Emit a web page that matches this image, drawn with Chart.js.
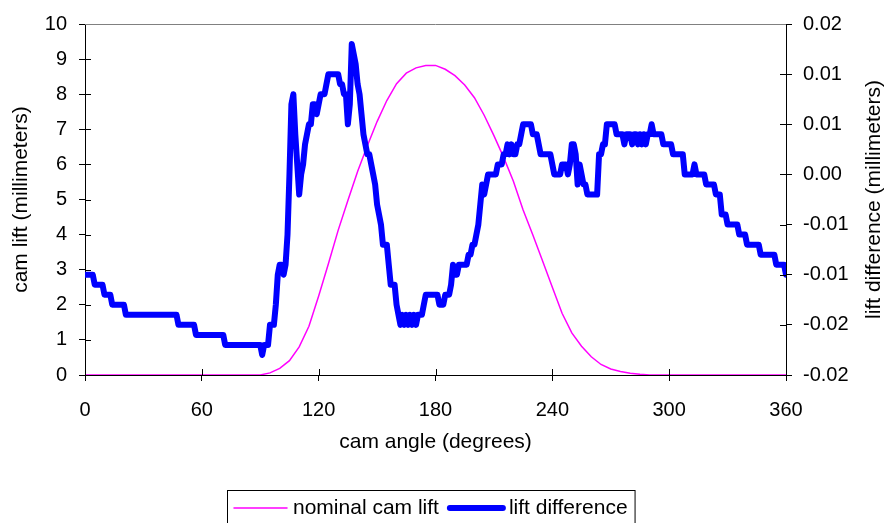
<!DOCTYPE html>
<html>
<head>
<meta charset="utf-8">
<script src="https://cdn.jsdelivr.net/npm/chart.js@4.4.1/dist/chart.umd.min.js"></script>
<style>
  html, body { margin: 0; padding: 0; background: #fff; }
  #wrap { width: 887px; height: 523px; position: relative; }
</style>
</head>
<body>
<div id="wrap"><canvas id="camChart"></canvas></div>
<script>
// nominal cam lift (mm) against cam angle (deg)
const liftAngles = [0, 90, 95, 100, 105, 110, 115, 120, 125, 130, 135, 140, 145, 150, 155, 160, 165, 170, 175, 180,
    185, 190, 195, 200, 205, 210, 215, 220, 225, 230, 235, 240, 245, 250, 255, 260, 265, 270, 275, 280, 285, 290, 360];
const liftValues = [0, 0, 0.06, 0.19, 0.41, 0.8, 1.39, 2.25, 3.17, 4.12, 4.97, 5.8, 6.53, 7.22, 7.82, 8.3, 8.6, 8.75, 8.82, 8.82,
    8.71, 8.53, 8.26, 7.9, 7.4, 6.82, 6.2, 5.52, 4.7, 3.99, 3.25, 2.5, 1.76, 1.2, 0.82, 0.52, 0.3, 0.17, 0.1, 0.05, 0.02, 0, 0];

// lift difference (mm), read in steps of one micron
const diffAngles = [0, 4, 5, 9, 10, 13, 14, 20, 21, 47, 48, 56, 57, 71, 72, 90, 91, 92, 94, 95, 97, 98, 99, 100, 101, 102, 103, 104,
    105, 106, 107, 108, 109, 110, 111, 112, 113, 114, 115, 116, 117, 118, 119, 120, 121, 123, 124, 125, 130, 131, 132, 133, 134, 135, 136, 137,
    138, 139, 140, 141, 142, 143, 144, 145, 146, 147, 148, 149, 150, 151, 152, 153, 155, 156, 157, 159, 160, 161,
    162, 163, 164, 165, 166, 167, 168, 169, 170, 171, 172, 173, 174, 175, 181, 182, 184, 185, 187, 188, 189, 190, 191, 192, 196,
    197, 198, 199, 200, 201, 202, 203, 204, 205, 206, 207, 211, 212, 214, 215, 216, 217, 218, 219, 220, 221, 222, 223, 224, 225, 229,
    230, 232, 233, 234, 239, 240, 241, 244, 245, 247, 248, 249, 250, 251, 252, 253, 254, 255, 256, 257, 258, 263,
    264, 265, 266, 267, 268, 272, 273, 276, 277, 278, 280, 281, 282, 283, 284, 285, 286, 287, 288, 289, 290, 291, 292, 296,
    297, 301, 302, 307, 308, 312, 313, 314, 318, 319, 323, 324, 326, 327, 329, 330, 335, 336, 339, 340, 346, 347, 354, 355, 359, 360];
const diffMicrons = [-10, -10, -11, -11, -12, -12, -13, -13, -14, -14, -15, -15, -16, -16, -17, -17, -18, -17, -17, -15, -15, -13, -10, -9, -9, -10, -9, -6,
    0, 7, 8, 4, 1, -2, 0, 1, 3, 4, 5, 5, 7, 7, 6, 7, 8, 8, 9, 10, 10, 9, 9, 8, 8, 5, 7, 13,
    12, 11, 9, 8, 6, 4, 3, 2, 2, 1, 0, -1, -3, -4, -5, -7, -7, -9, -11, -11, -13, -14,
    -15, -14, -15, -14, -15, -14, -15, -14, -15, -14, -14, -14, -13, -12, -12, -13, -13, -12, -12, -11, -9, -10, -10, -9, -9,
    -8, -8, -7, -7, -6, -5, -3, -1, -2, -1, 0, 0, 1, 1, 2, 2, 3, 2, 3, 2, 2, 3, 3, 4, 5, 5,
    4, 4, 3, 2, 2, 1, 0, 0, 1, 1, 0, 1, 3, 3, 2, -1, 1, 0, -1, -1, -2, -2,
    2, 2, 3, 3, 5, 5, 4, 4, 3, 4, 4, 3, 4, 4, 3, 4, 3, 4, 3, 4, 4, 5, 4, 4,
    3, 3, 2, 2, 0, 0, 1, 0, 0, -1, -1, -2, -2, -4, -4, -5, -5, -6, -6, -7, -7, -8, -8, -9, -9, -10];

const xTicks = [0, 60, 120, 180, 240, 300, 360];
const rightTickValues = [-0.02, -0.015, -0.01, -0.005, 0, 0.005, 0.01, 0.015];
const rightTickLabels = ['-0.02', '-0.02', '-0.01', '-0.01', '0.00', '0.01', '0.01', '0.02'];

const FONT = "'Liberation Sans', Arial, sans-serif";
Chart.defaults.color = '#000';
Chart.defaults.font.family = FONT;

const liftData = liftAngles.map((a, i) => ({x: a, y: liftValues[i]}));
const diffData = diffAngles.map((a, i) => ({x: a, y: diffMicrons[i] / 1000}));

// ticks crossing the axes, top frame line, right title and boxed legend
const decorPlugin = {
    id: 'decor',
    afterDraw(chart) {
        const ctx = chart.ctx;
        const area = chart.chartArea;
        ctx.save();
        ctx.strokeStyle = '#000';
        ctx.lineWidth = 1;
        ctx.beginPath();
        chart.scales.y.ticks.forEach(t => {
            const py = Math.round(chart.scales.y.getPixelForValue(t.value)) + 0.5;
            ctx.moveTo(area.left, py); ctx.lineTo(area.left + 6, py);
        });
        chart.scales.y1.ticks.forEach(t => {
            const py = Math.round(chart.scales.y1.getPixelForValue(t.value)) + 0.5;
            ctx.moveTo(area.right, py); ctx.lineTo(area.right - 6, py);
        });
        chart.scales.x.ticks.forEach(t => {
            const px = Math.round(chart.scales.x.getPixelForValue(t.value)) + 0.5;
            ctx.moveTo(px, area.bottom); ctx.lineTo(px, area.bottom - 6);
        });
        ctx.stroke();

        ctx.strokeStyle = '#808080';
        ctx.beginPath();
        ctx.moveTo(area.left, Math.round(area.top) + 0.5);
        ctx.lineTo(area.right, Math.round(area.top) + 0.5);
        ctx.stroke();

        // right axis title, reading bottom to top
        ctx.fillStyle = '#000';
        ctx.font = '21px ' + FONT;
        ctx.textAlign = 'center';
        ctx.textBaseline = 'middle';
        ctx.translate(874, (area.top + area.bottom) / 2);
        ctx.rotate(-Math.PI / 2);
        ctx.fillText('lift difference (millimeters)', 0, 0);
        ctx.restore();

        // legend
        ctx.save();
        ctx.font = '21px ' + FONT;
        ctx.textBaseline = 'middle';
        ctx.textAlign = 'left';
        const sample = 53, gapText = 6, gapItem = 11, pad = 7;
        const items = chart.data.datasets;
        let total = pad * 2;
        items.forEach((d, i) => {
            total += sample + gapText + ctx.measureText(d.label).width + (i ? gapItem : 0);
        });
        const boxLeft = Math.round(431 - total / 2);
        const boxTop = 490;
        const midY = 508;
        ctx.strokeStyle = '#000';
        ctx.lineWidth = 1;
        ctx.strokeRect(boxLeft + 0.5, boxTop + 0.5, total, 60);
        let x = boxLeft + pad;
        items.forEach((d, i) => {
            if (i) x += gapItem;
            ctx.strokeStyle = d.borderColor;
            ctx.lineWidth = d.borderWidth;
            ctx.lineCap = 'round';
            ctx.beginPath();
            ctx.moveTo(x, midY); ctx.lineTo(x + sample, midY);
            ctx.stroke();
            x += sample + gapText;
            ctx.fillStyle = '#000';
            ctx.fillText(d.label, x, midY);
            x += ctx.measureText(d.label).width;
        });
        ctx.restore();
    }
};

new Chart(document.getElementById('camChart').getContext('2d'), {
    type: 'line',
    data: {
        datasets: [
            {
                label: 'nominal cam lift',
                data: liftData,
                yAxisID: 'y',
                borderColor: '#ff00ff',
                borderWidth: 1.5,
                pointRadius: 0,
                tension: 0,
                order: 2
            },
            {
                label: 'lift difference',
                data: diffData,
                yAxisID: 'y1',
                borderColor: '#0000ff',
                borderWidth: 6,
                borderJoinStyle: 'round',
                borderCapStyle: 'round',
                pointRadius: 0,
                tension: 0,
                order: 1
            }
        ]
    },
    options: {
        responsive: true,
        maintainAspectRatio: false,
        animation: false,
        layout: {
            padding: { top: 24, left: 0, right: 0, bottom: 68 }
        },
        scales: {
            x: {
                type: 'linear',
                min: 0,
                max: 360,
                afterBuildTicks: scale => { scale.ticks = xTicks.map(v => ({value: v})); },
                afterFit: scale => { scale.height = 80; },
                grid: { drawOnChartArea: false, drawTicks: true, tickLength: 6, color: '#000' },
                border: { color: '#000', width: 1 },
                ticks: { font: { size: 20 }, padding: 17, maxRotation: 0 },
                title: { display: true, text: 'cam angle (degrees)', font: { size: 21 }, padding: { top: 0, bottom: 0 } }
            },
            y: {
                position: 'left',
                min: 0,
                max: 10,
                afterFit: scale => { scale.width = 85; },
                grid: { drawOnChartArea: false, drawTicks: true, tickLength: 6, color: '#000' },
                border: { color: '#000', width: 1 },
                ticks: { stepSize: 1, font: { size: 20 }, padding: 12 },
                title: { display: true, text: 'cam lift (millimeters)', font: { size: 21 }, padding: { top: 9, bottom: 0 } }
            },
            y1: {
                position: 'right',
                min: -0.02,
                max: 0.015,
                afterFit: scale => { scale.width = 101; },
                afterBuildTicks: scale => { scale.ticks = rightTickValues.map(v => ({value: v})); },
                grid: { drawOnChartArea: false, drawTicks: true, tickLength: 6, color: '#000' },
                border: { color: '#000', width: 1 },
                ticks: {
                    font: { size: 20 },
                    padding: 11,
                    callback: function(value) {
                        const i = rightTickValues.findIndex(v => Math.abs(v - value) < 1e-9);
                        return i >= 0 ? rightTickLabels[i] : '';
                    }
                }
            }
        },
        plugins: {
            legend: { display: false },
            tooltip: { enabled: false }
        }
    },
    plugins: [decorPlugin]
});
</script>
</body>
</html>
